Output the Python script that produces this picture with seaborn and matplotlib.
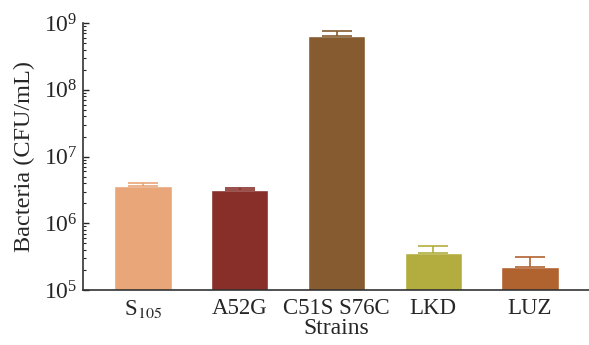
import matplotlib
matplotlib.use("Agg")
import matplotlib.pyplot as plt
import seaborn as sns
import numpy as np
import pandas as pd

strains = ["S$_{105}$", "A52G", "C51S S76C", "LKD", "LUZ"]
counts = [3.6e6, 3.15e6, 6.4e8, 3.6e5, 2.25e5]
upper_err = [0.4e6, 0.25e6, 1.3e8, 1.0e5, 0.85e5]
colors = ["#E8A679", "#872F28", "#855B2F", "#B2AD3E", "#B0622F"]

sns.set_style("ticks")
plt.rcParams["font.family"] = ["Liberation Serif", "DejaVu Serif"]
plt.rcParams["mathtext.fontset"] = "stix"

df = pd.DataFrame({"Strain": strains, "Count": counts})

fig = plt.figure(figsize=(5.89, 3.45), dpi=100)
ax = fig.add_axes([0.141, 0.159, 0.859, 0.774])

sns.barplot(data=df, x="Strain", y="Count", hue="Strain", palette=colors,
            legend=False, width=0.59, saturation=1, ax=ax, log_scale=(False, True))

for i, (v, e, c) in enumerate(zip(counts, upper_err, colors)):
    ax.errorbar(i, v, yerr=[[0], [e]], fmt="none", ecolor=c, elinewidth=1.2,
                capsize=11, capthick=1.2)

ax.set_yscale("log")
ax.set_ylim(1e5, 1e9)
ax.set_xlim(-0.62, 4.61)
ax.set_xlabel("Strains", fontsize=17, labelpad=-2)
ax.set_ylabel("Bacteria (CFU/mL)", fontsize=17.5, labelpad=6)
ax.tick_params(axis="y", which="major", direction="in", length=4, width=1,
               labelsize=17, pad=4)
ax.tick_params(axis="y", which="minor", direction="in", length=2, width=0.8)
ax.tick_params(axis="x", length=0, labelsize=16.5, pad=6)
for s in ["left", "bottom"]:
    ax.spines[s].set_linewidth(1.2)
    ax.spines[s].set_color("#333333")
sns.despine(ax=ax)

fig.savefig("out.png", dpi=100)
